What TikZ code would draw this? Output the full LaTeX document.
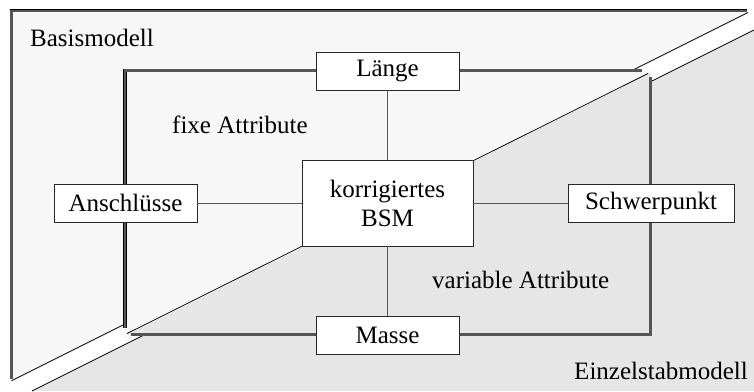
\documentclass[tikz,border=0pt]{standalone}
\usepackage{fontspec}
\setmainfont{Liberation Serif}
\definecolor{lightbg}{HTML}{F7F7F7}
\definecolor{darkbg}{HTML}{E6E6E6}
\definecolor{framegray}{HTML}{555555}
\definecolor{conncol}{HTML}{555555}
\begin{document}
\begin{tikzpicture}[x=1pt,y=-1pt,
  frame/.style={draw=black,line width=0.6pt,double=framegray,double distance=2.3pt},
  thinline/.style={draw=black,line width=0.7pt},
  box/.style={draw=black!85,line width=0.9pt,fill=white,inner sep=0pt,align=center,
    font=\fontsize{25}{29}\selectfont},
  lbl/.style={inner sep=0pt,font=\fontsize{25}{29}\selectfont},
  connector/.style={draw=conncol,line width=0.9pt}]
\useasboundingbox[fill=white] (0,0) rectangle (754,391);
% outer upper-left region (Basismodell)
\fill[lightbg] (11.5,10.7) -- (748,10.7) -- (748,12.5) -- (11.5,380.75) -- cycle;
\draw[thinline] (748,12.5) -- (11.5,380.75);
% outer lower-right region (Einzelstabmodell)
\fill[darkbg] (754,30) -- (754,391) -- (32,391) -- cycle;
\draw[thinline] (754,30) -- (32,391);
% outer frame
\draw[frame] (747,10.7) -- (11.5,10.7) -- (11.5,379);
% inner rectangle
\fill[lightbg] (125,70.5) -- (650.5,70.5) -- (650.5,72) -- (125,334.5) -- cycle;
\fill[darkbg] (650.5,72) -- (650.5,334.5) -- (125,334.5) -- cycle;
\draw[thinline] (127,333.5) -- (648,73.5);
\draw[frame] (642,70.5) -- (125,70.5) -- (125,328);
\draw[frame] (650.5,77) -- (650.5,334.5) -- (131,334.5);
% nodes
\node[box,minimum width=143pt,minimum height=38pt] (laenge) at (387.5,71) {Länge};
\node[box,minimum width=171pt,minimum height=86pt] (bsm) at (387.5,203) {korrigiertes\\BSM};
\node[box,minimum width=143pt,minimum height=38pt] (anschl) at (125.5,203) {Anschlüsse};
\node[box,minimum width=166pt,minimum height=38pt] (schwer) at (651,203) {Schwerpunkt};
\node[box,minimum width=143pt,minimum height=38pt] (masse) at (387.5,335) {Masse};
% connectors
\draw[connector] (bsm) -- (laenge);
\draw[connector] (bsm) -- (masse);
\draw[connector] (bsm) -- (anschl);
\draw[connector] (bsm) -- (schwer);
% labels
\node[lbl,anchor=base west] (basis) at (30,46) {Basismodell};
\node[lbl,anchor=base west] (fixe) at (172,133) {fixe Attribute};
\node[lbl,anchor=base west] (variabel) at (432,288) {variable Attribute};
\node[lbl,anchor=base east] (einzel) at (748,379) {Einzelstabmodell};
\end{tikzpicture}
\end{document}
